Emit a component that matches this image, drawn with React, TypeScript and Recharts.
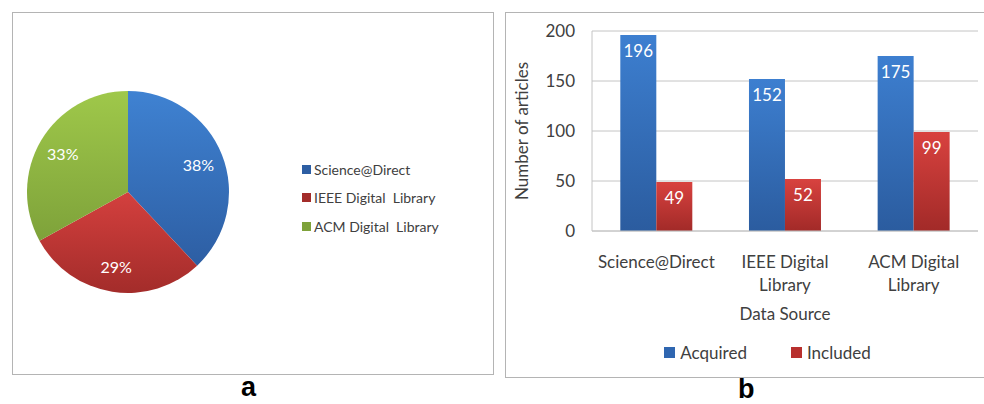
import React from "react";
import {
  PieChart,
  Pie,
  Cell,
  BarChart,
  Bar,
  XAxis,
  YAxis,
  CartesianGrid,
  Legend,
  LabelList,
} from "recharts";

// pie (panel a)
const sources = ["Science@Direct", "IEEE Digital  Library", "ACM Digital  Library"];
const shares = [38, 29, 33];

// bars (panel b)
const categories = ["Science@Direct", "IEEE Digital Library", "ACM Digital Library"];
const tickLines = [["Science@Direct"], ["IEEE Digital", "Library"], ["ACM Digital", "Library"]];
const acquired = [196, 152, 175];
const included = [49, 52, 99];
const yTicks = [0, 50, 100, 150, 200];

const pieColors = [
  ["#3f82d2", "#2d5ea3"],
  ["#d4403e", "#a32c2a"],
  ["#9fc84a", "#7ea23a"],
];

const font = "Lato, 'Open Sans', sans-serif";

const pieData = sources.map((name, i) => ({ name, value: shares[i] }));
const barData = categories.map((name, i) => ({
  name,
  Acquired: acquired[i],
  Included: included[i],
}));

const RAD = Math.PI / 180;

const pieLabel = (p: any) => {
  const r = p.outerRadius * 0.75;
  const x = p.cx + r * Math.cos(-p.midAngle * RAD);
  const y = p.cy + r * Math.sin(-p.midAngle * RAD);
  return (
    <text x={x} y={y} fill="#fff" fontSize={16} fontFamily={font} textAnchor="middle" dominantBaseline="central">
      {p.value}%
    </text>
  );
};

const PieLegend = () => (
  <div style={{ fontFamily: font, fontSize: 14, color: "#404040" }}>
    {sources.map((s, i) => (
      <div key={s} style={{ height: 28.5, display: "flex", alignItems: "center", whiteSpace: "pre" }}>
        <span style={{ width: 9, height: 9, background: pieColors[i][1], marginRight: 3, display: "inline-block" }} />
        {s}
      </div>
    ))}
  </div>
);

const XTick = (p: any) => {
  const lines = tickLines[p.index] || [p.payload.value];
  return (
    <text x={p.x} y={p.y} textAnchor="middle" fill="#404040" fontSize={17} fontFamily={font}>
      {lines.map((l, i) => (
        <tspan key={i} x={p.x} dy={i === 0 ? 29 : 23}>
          {l}
        </tspan>
      ))}
    </text>
  );
};

const BarLegend = () => (
  <div style={{ height: 22, display: "flex", justifyContent: "center", alignItems: "center", fontFamily: font, fontSize: 17, color: "#404040", paddingLeft: 52 }}>
    <span style={{ width: 11, height: 11, background: "#2f66b0", marginRight: 5 }} />
    <span style={{ marginRight: 44 }}>Acquired</span>
    <span style={{ width: 11, height: 11, background: "#b8302e", marginRight: 5 }} />
    <span>Included</span>
  </div>
);

const panelLetter = {
  position: "absolute" as const,
  fontFamily: "'Liberation Sans', Arial, sans-serif",
  fontWeight: "bold" as const,
  fontSize: 27,
  lineHeight: "26px",
};

export default function App() {
  return (
    <div style={{ position: "absolute", left: 0, top: 0, width: 984, height: 404, background: "#fff", overflow: "hidden" }}>
      <div style={{ position: "absolute", left: 12, top: 12, width: 480, height: 361, border: "1px solid #b4b4b4" }} />
      <div style={{ position: "absolute", left: 505, top: 12, width: 480, height: 364, border: "1px solid #b4b4b4" }} />

      <div style={{ position: "absolute", left: 12, top: 12 }}>
        <PieChart width={481} height={362} margin={{ top: 0, right: 0, bottom: 0, left: 0 }}>
          <defs>
            {pieColors.map((c, i) => (
              <linearGradient key={i} id={"pg" + i} x1="0" y1="0" x2="0" y2="1">
                <stop offset="0%" stopColor={c[0]} />
                <stop offset="100%" stopColor={c[1]} />
              </linearGradient>
            ))}
          </defs>
          <Pie
            data={pieData}
            dataKey="value"
            cx={116}
            cy={180}
            outerRadius={101}
            startAngle={90}
            endAngle={-270}
            stroke="none"
            label={pieLabel}
            labelLine={false}
            isAnimationActive={false}
          >
            {pieData.map((d, i) => (
              <Cell key={d.name} fill={`url(#pg${i})`} />
            ))}
          </Pie>
          <Legend layout="vertical" content={<PieLegend />} wrapperStyle={{ left: 290, top: 143, width: 180 }} />
        </PieChart>
      </div>

      <div style={{ position: "absolute", left: 505, top: 12 }}>
        <BarChart
          width={477}
          height={365}
          data={barData}
          margin={{ top: 19, right: 4, left: 0, bottom: 14 }}
          barGap={0}
          barCategoryGap="22%"
        >
          <defs>
            <linearGradient id="gb" x1="0" y1="0" x2="0" y2="1">
              <stop offset="0%" stopColor="#3d7fd0" />
              <stop offset="100%" stopColor="#2b5c9f" />
            </linearGradient>
            <linearGradient id="gr" x1="0" y1="0" x2="0" y2="1">
              <stop offset="0%" stopColor="#d8423f" />
              <stop offset="100%" stopColor="#a22a28" />
            </linearGradient>
          </defs>
          <CartesianGrid vertical={false} stroke="#c4c4c4" />
          <XAxis
            dataKey="name"
            height={110}
            tick={<XTick />}
            tickLine={false}
            axisLine={{ stroke: "#c4c4c4" }}
            interval={0}
            label={{ value: "Data Source", position: "insideBottom", offset: 21, fill: "#404040", fontSize: 17, fontFamily: font }}
          />
          <YAxis
            width={87}
            domain={[0, 200]}
            ticks={yTicks}
            tickLine={false}
            tickMargin={11}
            axisLine={{ stroke: "#c4c4c4" }}
            tick={{ fill: "#404040", fontSize: 17, fontFamily: font }}
            label={{
              value: "Number of articles",
              angle: -90,
              position: "insideLeft",
              offset: 17,
              fill: "#404040",
              fontSize: 17,
              fontFamily: font,
              style: { textAnchor: "middle" },
            }}
          />
          <Legend verticalAlign="bottom" content={<BarLegend />} />
          <Bar dataKey="Acquired" fill="url(#gb)" isAnimationActive={false}>
            <LabelList dataKey="Acquired" position="insideTop" offset={10} fill="#fff" fontSize={17} fontFamily={font} />
          </Bar>
          <Bar dataKey="Included" fill="url(#gr)" isAnimationActive={false}>
            <LabelList dataKey="Included" position="insideTop" offset={10} fill="#fff" fontSize={17} fontFamily={font} />
          </Bar>
        </BarChart>
      </div>

      <div style={{ ...panelLetter, left: 241, top: 374 }}>a</div>
      <div style={{ ...panelLetter, left: 738, top: 376 }}>b</div>
    </div>
  );
}
